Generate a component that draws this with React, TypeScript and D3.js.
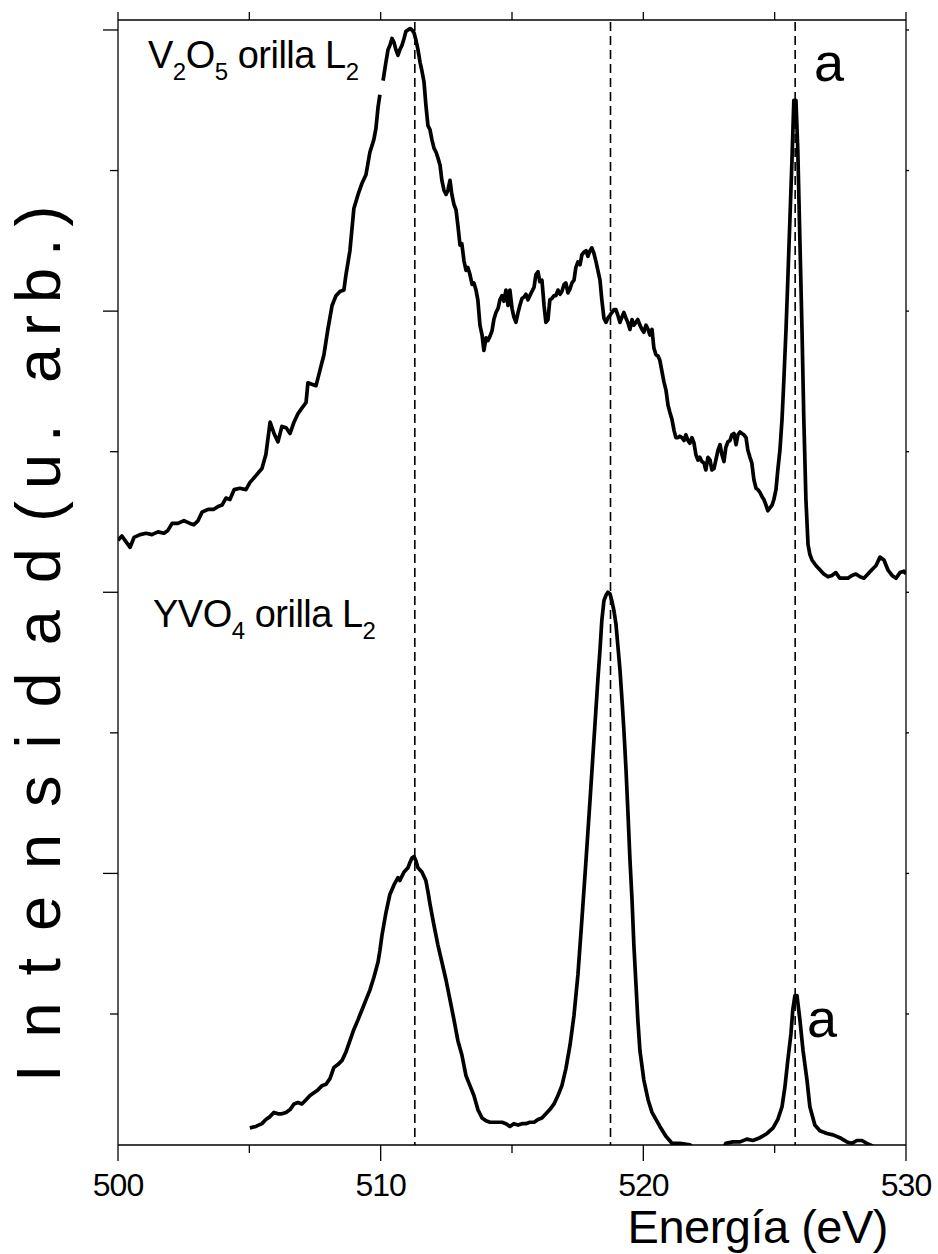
import React from "react";
import * as d3 from "d3";

// V2O5 L2 edge trace [energy eV, intensity a.u.]; NaN marks the break in the trace
const v2o5: [number, number][] = [
  [500.0, 4.37], [500.15, 4.4], [500.3, 4.36], [500.46, 4.32], [500.61, 4.39], [500.84, 4.41],
  [501.07, 4.42], [501.29, 4.41], [501.52, 4.43], [501.75, 4.42], [501.9, 4.44], [502.06, 4.49],
  [502.28, 4.49], [502.51, 4.51], [502.74, 4.49], [502.89, 4.48], [503.05, 4.51], [503.2, 4.57],
  [503.43, 4.59], [503.65, 4.59], [503.81, 4.61], [503.96, 4.62], [504.11, 4.67], [504.26, 4.66],
  [504.42, 4.73], [504.64, 4.74], [504.87, 4.73], [505.02, 4.78], [505.25, 4.83], [505.48, 4.88],
  [505.63, 4.98], [505.79, 5.21], [505.94, 5.13], [506.09, 5.07], [506.24, 5.18], [506.4, 5.17],
  [506.55, 5.13], [506.7, 5.21], [506.85, 5.27], [507.0, 5.31], [507.16, 5.35], [507.23, 5.49],
  [507.38, 5.48], [507.54, 5.47], [507.69, 5.58], [507.84, 5.69], [507.99, 5.87], [508.15, 6.04],
  [508.3, 6.11], [508.45, 6.14], [508.6, 6.15], [508.68, 6.26], [508.83, 6.43], [508.98, 6.73],
  [509.14, 6.83], [509.29, 6.91], [509.44, 6.97], [509.59, 7.13], [509.74, 7.22], [509.82, 7.3],
  [509.9, 7.45], [509.97, 7.54], [510.03, NaN], [510.09, 7.64], [510.2, 7.77], [510.28, 7.86],
  [510.35, 7.89], [510.43, 7.94], [510.51, 7.91], [510.58, 7.86], [510.66, 7.82], [510.73, 7.86],
  [510.81, 7.89], [510.89, 7.94], [510.96, 7.99], [511.12, 8.01], [511.19, 8.0], [511.27, 7.98],
  [511.34, 7.93], [511.42, 7.86], [511.5, 7.77], [511.57, 7.71], [511.65, 7.63], [511.72, 7.47],
  [511.8, 7.32], [511.88, 7.29], [511.95, 7.22], [512.03, 7.16], [512.11, 7.13], [512.18, 7.09],
  [512.26, 7.04], [512.33, 6.93], [512.41, 6.86], [512.49, 6.83], [512.56, 6.86], [512.64, 6.93],
  [512.71, 6.83], [512.79, 6.76], [512.87, 6.72], [512.94, 6.61], [513.02, 6.47], [513.09, 6.48],
  [513.17, 6.36], [513.25, 6.29], [513.32, 6.31], [513.4, 6.26], [513.48, 6.19], [513.55, 6.2],
  [513.63, 6.15], [513.7, 6.08], [513.78, 5.9], [513.86, 5.83], [513.93, 5.72], [514.01, 5.81],
  [514.08, 5.79], [514.16, 5.82], [514.24, 5.86], [514.31, 5.94], [514.39, 5.99], [514.47, 6.02],
  [514.54, 6.08], [514.62, 6.11], [514.69, 6.07], [514.77, 6.15], [514.85, 6.04], [514.92, 6.15],
  [515.0, 6.02], [515.07, 5.96], [515.15, 5.92], [515.23, 5.99], [515.3, 6.04], [515.38, 6.09],
  [515.46, 6.1], [515.53, 6.12], [515.61, 6.08], [515.68, 6.11], [515.76, 6.14], [515.84, 6.17],
  [515.91, 6.26], [515.99, 6.28], [516.06, 6.21], [516.14, 6.22], [516.22, 6.04], [516.29, 5.92],
  [516.37, 5.94], [516.44, 6.08], [516.52, 6.09], [516.6, 6.11], [516.67, 6.11], [516.75, 6.15],
  [516.83, 6.12], [516.9, 6.14], [516.98, 6.19], [517.05, 6.2], [517.13, 6.13], [517.21, 6.16],
  [517.28, 6.2], [517.36, 6.22], [517.43, 6.31], [517.51, 6.35], [517.59, 6.33], [517.66, 6.4],
  [517.74, 6.42], [517.82, 6.43], [517.89, 6.39], [517.97, 6.43], [518.04, 6.45], [518.12, 6.41],
  [518.2, 6.35], [518.27, 6.29], [518.35, 6.22], [518.42, 6.08], [518.5, 5.95], [518.58, 5.92],
  [518.65, 5.95], [518.73, 5.97], [518.8, 5.99], [518.88, 6.01], [518.96, 6.01], [519.03, 5.97],
  [519.11, 5.92], [519.19, 5.96], [519.26, 5.99], [519.34, 5.95], [519.41, 5.92], [519.49, 5.87],
  [519.57, 5.94], [519.64, 5.9], [519.72, 5.92], [519.79, 5.94], [519.87, 5.9], [519.95, 5.87],
  [520.02, 5.85], [520.1, 5.9], [520.18, 5.87], [520.25, 5.83], [520.33, 5.87], [520.4, 5.74],
  [520.48, 5.69], [520.56, 5.68], [520.63, 5.65], [520.71, 5.57], [520.78, 5.5], [520.86, 5.44],
  [520.94, 5.33], [521.01, 5.28], [521.09, 5.23], [521.17, 5.15], [521.24, 5.1], [521.32, 5.1],
  [521.39, 5.11], [521.47, 5.1], [521.55, 5.08], [521.62, 5.12], [521.7, 5.08], [521.77, 5.06],
  [521.85, 5.1], [521.93, 5.06], [522.0, 4.98], [522.08, 4.94], [522.15, 4.96], [522.23, 4.93],
  [522.31, 4.92], [522.38, 4.87], [522.46, 4.96], [522.54, 4.94], [522.61, 4.87], [522.69, 4.88],
  [522.76, 4.94], [522.84, 5.01], [522.92, 5.05], [522.99, 4.98], [523.07, 4.93], [523.14, 5.03],
  [523.22, 5.07], [523.3, 5.08], [523.37, 5.12], [523.45, 5.13], [523.53, 5.05], [523.6, 5.12],
  [523.68, 5.14], [523.75, 5.13], [523.83, 5.12], [523.91, 5.1], [523.98, 5.01], [524.06, 4.96],
  [524.13, 4.92], [524.21, 4.8], [524.29, 4.74], [524.36, 4.73], [524.44, 4.71], [524.52, 4.68],
  [524.59, 4.66], [524.67, 4.62], [524.74, 4.58], [524.82, 4.6], [524.9, 4.62], [524.97, 4.66],
  [525.05, 4.73], [525.12, 4.87], [525.2, 5.01], [525.28, 5.23], [525.35, 5.51], [525.43, 5.86],
  [525.5, 6.22], [525.58, 6.65], [525.66, 7.08], [525.73, 7.5], [525.81, 7.5], [525.88, 7.15],
  [525.96, 6.51], [526.04, 5.87], [526.11, 5.23], [526.19, 4.66], [526.27, 4.34], [526.34, 4.27],
  [526.42, 4.23], [526.57, 4.19], [526.72, 4.16], [526.87, 4.13], [527.03, 4.11], [527.18, 4.12],
  [527.33, 4.14], [527.48, 4.1], [527.64, 4.1], [527.79, 4.1], [527.94, 4.12], [528.09, 4.13],
  [528.25, 4.11], [528.4, 4.1], [528.55, 4.13], [528.7, 4.16], [528.86, 4.19], [529.01, 4.25],
  [529.16, 4.23], [529.31, 4.16], [529.47, 4.12], [529.62, 4.1], [529.77, 4.14], [529.92, 4.15],
  [530.0, 4.13],
];

// YVO4 L2 edge trace [energy eV, intensity a.u.]
const yvo4: [number, number][] = [
  [505.02, 0.19], [505.25, 0.2], [505.48, 0.22], [505.63, 0.25], [505.79, 0.27], [505.94, 0.3],
  [506.09, 0.29], [506.24, 0.29], [506.4, 0.3], [506.55, 0.32], [506.7, 0.36], [506.85, 0.37],
  [507.0, 0.36], [507.16, 0.39], [507.31, 0.42], [507.46, 0.44], [507.61, 0.46], [507.77, 0.49],
  [507.92, 0.5], [508.07, 0.54], [508.22, 0.62], [508.37, 0.64], [508.53, 0.67], [508.68, 0.73],
  [508.83, 0.81], [508.98, 0.89], [509.14, 0.96], [509.29, 1.03], [509.44, 1.1], [509.59, 1.17],
  [509.74, 1.26], [509.9, 1.37], [509.97, 1.45], [510.05, 1.56], [510.2, 1.72], [510.35, 1.85],
  [510.51, 1.92], [510.66, 1.97], [510.73, 1.95], [510.89, 2.01], [511.04, 2.04], [511.12, 2.08],
  [511.19, 2.11], [511.27, 2.12], [511.34, 2.09], [511.42, 2.04], [511.57, 2.01], [511.72, 1.95],
  [511.8, 1.87], [511.88, 1.78], [512.03, 1.63], [512.18, 1.49], [512.33, 1.37], [512.49, 1.24],
  [512.64, 1.1], [512.79, 0.96], [512.94, 0.81], [513.09, 0.71], [513.25, 0.56], [513.4, 0.49],
  [513.55, 0.42], [513.7, 0.32], [513.86, 0.26], [514.01, 0.24], [514.16, 0.23], [514.39, 0.23],
  [514.62, 0.23], [514.77, 0.22], [514.92, 0.2], [515.07, 0.22], [515.23, 0.21], [515.38, 0.22],
  [515.53, 0.22], [515.68, 0.23], [515.84, 0.23], [515.99, 0.25], [516.14, 0.26], [516.29, 0.29],
  [516.44, 0.32], [516.6, 0.36], [516.75, 0.42], [516.9, 0.49], [517.05, 0.61], [517.21, 0.78],
  [517.36, 0.99], [517.51, 1.28], [517.66, 1.67], [517.82, 2.1], [517.97, 2.52], [518.12, 2.95],
  [518.27, 3.38], [518.35, 3.59], [518.42, 3.8], [518.5, 3.94], [518.58, 3.98], [518.65, 4.0],
  [518.73, 3.99], [518.8, 3.94], [518.88, 3.87], [518.96, 3.77], [519.03, 3.62], [519.11, 3.45],
  [519.19, 3.23], [519.26, 3.02], [519.34, 2.74], [519.41, 2.45], [519.49, 2.1], [519.57, 1.81],
  [519.64, 1.49], [519.72, 1.21], [519.79, 0.96], [519.87, 0.74], [520.02, 0.53], [520.18, 0.39],
  [520.33, 0.3], [520.48, 0.25], [520.63, 0.2], [520.86, 0.13], [521.09, 0.08], [521.39, 0.08],
  [521.77, 0.07], [522.0, 0.03], [522.54, 0.02], [523.0, 0.03], [523.14, 0.08], [523.41, 0.09],
  [523.68, 0.09], [523.94, 0.11], [524.17, 0.1], [524.44, 0.12], [524.71, 0.15], [524.94, 0.19],
  [525.12, 0.25], [525.28, 0.34], [525.39, 0.48], [525.5, 0.67], [525.62, 0.86], [525.69, 1.03],
  [525.77, 1.13], [525.85, 1.13], [525.96, 0.96], [526.08, 0.74], [526.23, 0.53], [526.34, 0.34],
  [526.53, 0.21], [526.72, 0.17], [526.99, 0.15], [527.22, 0.14], [527.48, 0.12], [527.75, 0.09],
  [527.94, 0.08], [528.13, 0.1], [528.32, 0.1], [528.51, 0.08], [528.74, 0.06],
];

const peakLines = [511.3, 518.75, 525.78];
const xMajor = [500, 510, 520, 530];
const xMinor = [505, 515, 525];
const yMajor = [2, 4, 6, 8];
const yMinor = [1, 3, 5, 7];

const W = 938;
const H = 1254;
const m = { left: 118, right: 906, top: 20, bottom: 1145 };
const font = "'Liberation Sans', Arial, Helvetica, sans-serif";

const App: React.FC = () => {
  const x = d3.scaleLinear().domain([500, 530]).range([m.left, m.right]);
  const y = d3.scaleLinear().domain([0.068, 8.071]).range([m.bottom, m.top]);

  const line = d3
    .line<[number, number]>()
    .defined((d) => !isNaN(d[1]))
    .x((d) => x(d[0]))
    .y((d) => y(d[1]));

  const ax = { stroke: "#000", strokeWidth: 1.3 };

  return (
    <svg
      width={W}
      height={H}
      style={{ position: "absolute", left: 0, top: 0, background: "#fff" }}
      fontFamily={font}
    >
      <defs>
        <clipPath id="plot">
          <rect x={m.left} y={m.top} width={m.right - m.left} height={m.bottom - m.top} />
        </clipPath>
      </defs>

      {/* dashed reference lines */}
      {peakLines.map((e) => (
        <line
          key={e}
          x1={x(e)}
          x2={x(e)}
          y1={m.top + 2}
          y2={m.bottom}
          stroke="#000"
          strokeWidth={1.6}
          strokeDasharray="9,5"
        />
      ))}

      <g clipPath="url(#plot)">
        <path d={line(v2o5) || ""} fill="none" stroke="#000" strokeWidth={3.7} strokeLinejoin="round" />
        <path d={line(yvo4) || ""} fill="none" stroke="#000" strokeWidth={3.7} strokeLinejoin="round" />
      </g>

      {/* frame */}
      <line x1={m.left} x2={m.right} y1={m.top} y2={m.top} {...ax} />
      <line x1={m.left} x2={m.right} y1={m.bottom} y2={m.bottom} {...ax} />
      <line x1={m.left} x2={m.left} y1={m.top} y2={m.bottom} {...ax} />
      <line x1={m.right} x2={m.right} y1={m.top} y2={m.bottom} {...ax} />

      {/* x ticks */}
      {xMajor.map((v) => (
        <g key={"xM" + v}>
          <line x1={x(v)} x2={x(v)} y1={m.bottom} y2={m.bottom + 16} {...ax} />
          <line x1={x(v)} x2={x(v)} y1={m.top} y2={m.top - 8} {...ax} />
          <text x={x(v)} y={1196} fontSize={32} textAnchor="middle" letterSpacing={-1}>
            {v}
          </text>
        </g>
      ))}
      {xMinor.map((v) => (
        <g key={"xm" + v}>
          <line x1={x(v)} x2={x(v)} y1={m.bottom} y2={m.bottom + 8} {...ax} />
          <line x1={x(v)} x2={x(v)} y1={m.top} y2={m.top - 8} {...ax} />
        </g>
      ))}

      {/* y ticks */}
      {yMajor.map((v) => (
        <g key={"yM" + v}>
          <line x1={m.left - 15} x2={m.left} y1={y(v)} y2={y(v)} {...ax} />
          <line x1={m.right} x2={m.right + 3} y1={y(v)} y2={y(v)} {...ax} />
        </g>
      ))}
      {yMinor.map((v) => (
        <g key={"ym" + v}>
          <line x1={m.left - 8} x2={m.left} y1={y(v)} y2={y(v)} {...ax} />
          <line x1={m.right} x2={m.right + 3} y1={y(v)} y2={y(v)} {...ax} />
        </g>
      ))}

      {/* axis titles */}
      <text x={888} y={1243} fontSize={47} textAnchor="end" letterSpacing={-0.5}>
        Energía (eV)
      </text>
      <text transform="translate(60,1082) rotate(-90)" fontSize={63} letterSpacing={27}>
        Intensidad
      </text>
      <text transform="translate(60,522) rotate(-90)" fontSize={63} letterSpacing={12}>
        (u. arb.)
      </text>

      {/* annotations */}
      <text x={148} y={68} fontSize={38} letterSpacing={-0.5}>
        V<tspan fontSize={24} dy={12}>2</tspan>
        <tspan dy={-12}>O</tspan>
        <tspan fontSize={24} dy={12}>5</tspan>
        <tspan dy={-12}> orilla L</tspan>
        <tspan fontSize={24} dy={12}>2</tspan>
      </text>
      <text x={153} y={627} fontSize={38} letterSpacing={-0.5}>
        YVO<tspan fontSize={24} dy={12}>4</tspan>
        <tspan dy={-12}> orilla L</tspan>
        <tspan fontSize={24} dy={12}>2</tspan>
      </text>
      <text x={814} y={81} fontSize={54}>
        a
      </text>
      <text x={807} y={1037} fontSize={54}>
        a
      </text>
    </svg>
  );
};

export default App;
